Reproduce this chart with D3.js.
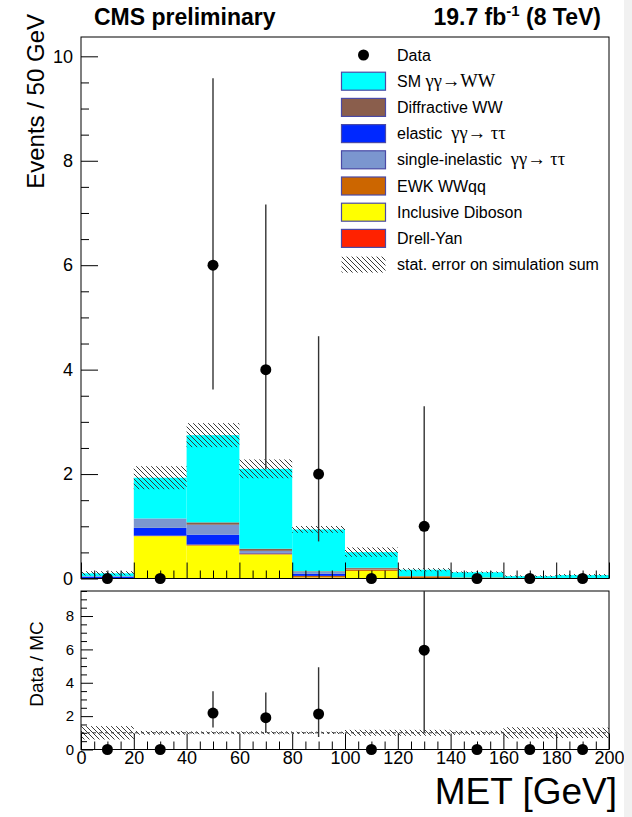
<!DOCTYPE html>
<html>
<head>
<meta charset="utf-8">
<script src="https://cdn.jsdelivr.net/npm/d3@7"></script>
<style>
  html, body { margin: 0; padding: 0; background: #fff; }
  svg { display: block; font-family: "Liberation Sans", Arial, Helvetica, sans-serif; }
  .greek { font-family: "Liberation Serif", "DejaVu Serif", serif; }
</style>
</head>
<body>
<svg id="chart" width="632" height="817"></svg>
<script>
// MET distribution, 20 GeV bins
const binEdges = [0, 20, 40, 60, 80, 100, 120, 140, 160, 180, 200];

// observed events and asymmetric Poisson errors
const dataCounts  = [0, 0, 6, 4, 2, 0, 1, 0, 0, 0];
const dataErrLow  = [0, 0, 2.38, 1.91, 1.29, 0, 0.83, 0, 0, 0];
const dataErrHigh = [0, 0, 3.58, 3.16, 2.64, 0, 2.30, 0, 0, 0];

// simulated contributions, stacked bottom to top
const drellYan              = [0, 0, 0, 0, 0.01, 0.005, 0, 0, 0, 0];
const inclusiveDiboson      = [0, 0.81, 0.63, 0.46, 0.01, 0.14, 0, 0, 0, 0];
const ewkWWqq               = [0.005, 0.01, 0.02, 0.02, 0.03, 0.03, 0.04, 0.02, 0.01, 0.01];
const elasticTauTau         = [0.03, 0.15, 0.19, 0.01, 0.04, 0, 0, 0, 0, 0];
const singleInelasticTauTau = [0.01, 0.18, 0.19, 0.04, 0.04, 0.01, 0, 0, 0, 0];
const diffractiveWW         = [0, 0, 0.045, 0.04, 0.01, 0.02, 0.005, 0, 0, 0];
const smGammaGammaWW        = [0.055, 0.78, 1.67, 1.53, 0.80, 0.30, 0.123, 0.10, 0.035, 0.055];

// statistical uncertainty on the simulated sum
const mcStatErr = [0.04, 0.22, 0.23, 0.18, 0.065, 0.09, 0.03, 0.015, 0.015, 0.02];

// axis ticks
const xMajorTicks = [0, 20, 40, 60, 80, 100, 120, 140, 160, 180, 200];
const yMajorTicks = [0, 2, 4, 6, 8, 10];
const ratioMajorTicks = [0, 2, 4, 6, 8];

const processes = [
  { name: "Drell-Yan",            values: drellYan,              color: "#ff2200" },
  { name: "Inclusive Diboson",    values: inclusiveDiboson,      color: "#ffff00" },
  { name: "EWK WWqq",             values: ewkWWqq,               color: "#cc6600" },
  { name: "elastic",              values: elasticTauTau,         color: "#0028ff" },
  { name: "single-inelastic",     values: singleInelasticTauTau, color: "#7b96cf" },
  { name: "Diffractive WW",       values: diffractiveWW,         color: "#8a5e4c" },
  { name: "SM",                   values: smGammaGammaWW,        color: "#00ffff" }
];

const svg = d3.select("#chart");
const defs = svg.append("defs");

// diagonal hatch for the stat. error band
const hatch = defs.append("pattern")
  .attr("id", "hatch").attr("patternUnits", "userSpaceOnUse")
  .attr("width", 5).attr("height", 5);
hatch.append("path")
  .attr("d", "M0,0 L5,5 M-1,4 L1,6 M4,-1 L6,1")
  .attr("stroke", "#3a3a3a").attr("stroke-width", 1);

// panel geometry
const left = 81, right = 609;
const top1 = 37, bot1 = 578.5;
const top2 = 591, bot2 = 749.5;

const x = d3.scaleLinear().domain([0, 200]).range([left, right]);
const y = d3.scaleLinear().domain([0, 10.37]).range([bot1, top1]);
const yr = d3.scaleLinear().domain([0, 9.5]).range([bot2, top2]);

const nBins = binEdges.length - 1;
const bins = d3.range(nBins).map(i => ({ i, lo: binEdges[i], hi: binEdges[i + 1], c: (binEdges[i] + binEdges[i + 1]) / 2 }));

// stacked simulation
const stackRows = bins.map(b => {
  const row = { i: b.i };
  processes.forEach(p => row[p.name] = p.values[b.i]);
  return row;
});
const stack = d3.stack().keys(processes.map(p => p.name))(stackRows);
const mcTotal = bins.map(b => d3.sum(processes, p => p.values[b.i]));

const gTop = svg.append("g");
stack.forEach((layer, k) => {
  gTop.append("g").selectAll("rect").data(layer).join("rect")
    .attr("x", (d, i) => x(bins[i].lo))
    .attr("width", (d, i) => x(bins[i].hi) - x(bins[i].lo))
    .attr("y", d => y(d[1]))
    .attr("height", d => Math.max(0, y(d[0]) - y(d[1])))
    .attr("fill", processes[k].color);
});

// stat. error band on the sum
gTop.append("g").selectAll("rect").data(bins).join("rect")
  .attr("x", b => x(b.lo))
  .attr("width", b => x(b.hi) - x(b.lo))
  .attr("y", b => y(mcTotal[b.i] + mcStatErr[b.i]))
  .attr("height", b => y(Math.max(0, mcTotal[b.i] - mcStatErr[b.i])) - y(mcTotal[b.i] + mcStatErr[b.i]))
  .attr("fill", "url(#hatch)");

// axes for the upper panel (ticks point inwards)
function styleAxis(g) {
  g.select(".domain").remove();
  g.selectAll(".tick line").attr("stroke", "#000").attr("stroke-width", 1);
  g.selectAll("text").attr("fill", "#000").attr("font-family", "Liberation Sans, Arial, sans-serif");
}
const xMinor = d3.range(0, 201, 5).filter(v => v % 20 !== 0);
gTop.append("g").attr("transform", `translate(0,${bot1})`)
  .call(d3.axisBottom(x).tickValues(xMajorTicks).tickSize(-16).tickFormat(""))
  .call(styleAxis);
gTop.append("g").attr("transform", `translate(0,${bot1})`)
  .call(d3.axisBottom(x).tickValues(xMinor).tickSize(-8).tickFormat(""))
  .call(styleAxis);
const yMinor = d3.range(0, 10.3, 0.5).filter(v => v % 2 !== 0);
gTop.append("g").attr("transform", `translate(${left},0)`)
  .call(d3.axisLeft(y).tickValues(yMajorTicks).tickSize(-17).tickPadding(8).tickFormat(d3.format("d")))
  .call(styleAxis)
  .call(g => g.selectAll("text").attr("font-size", 18));
gTop.append("g").attr("transform", `translate(${left},0)`)
  .call(d3.axisLeft(y).tickValues(yMinor).tickSize(-8).tickFormat(""))
  .call(styleAxis);

gTop.append("rect").attr("x", left).attr("y", top1)
  .attr("width", right - left).attr("height", bot1 - top1)
  .attr("fill", "none").attr("stroke", "#000").attr("stroke-width", 1);

// data points
const errColor = "#333";
gTop.append("g").selectAll("line").data(bins.filter(b => dataCounts[b.i] > 0)).join("line")
  .attr("x1", b => x(b.c)).attr("x2", b => x(b.c))
  .attr("y1", b => y(dataCounts[b.i] + dataErrHigh[b.i]))
  .attr("y2", b => y(dataCounts[b.i] - dataErrLow[b.i]))
  .attr("stroke", errColor).attr("stroke-width", 1.4);
gTop.append("g").selectAll("circle").data(bins).join("circle")
  .attr("cx", b => x(b.c)).attr("cy", b => y(dataCounts[b.i]))
  .attr("r", 5.5).attr("fill", "#000");

// lower panel: data / simulation
defs.append("clipPath").attr("id", "ratioClip")
  .append("rect").attr("x", left).attr("y", top2).attr("width", right - left).attr("height", bot2 - top2);

const gBot = svg.append("g");
const relErr = bins.map(b => mcTotal[b.i] > 0 ? mcStatErr[b.i] / mcTotal[b.i] : 0);
gBot.append("g").selectAll("rect").data(bins).join("rect")
  .attr("x", b => x(b.lo))
  .attr("width", b => x(b.hi) - x(b.lo))
  .attr("y", b => yr(1 + relErr[b.i]))
  .attr("height", b => yr(1 - relErr[b.i]) - yr(1 + relErr[b.i]))
  .attr("fill", "url(#hatch)");
gBot.append("line")
  .attr("x1", left).attr("x2", right).attr("y1", yr(1)).attr("y2", yr(1))
  .attr("stroke", "#333").attr("stroke-width", 1).attr("stroke-dasharray", "3,3");

gBot.append("g").attr("transform", `translate(0,${bot2})`)
  .call(d3.axisBottom(x).tickValues(xMajorTicks).tickSize(-16).tickPadding(2).tickFormat(d3.format("d")))
  .call(styleAxis)
  .call(g => g.selectAll("text").attr("font-size", 18));
gBot.append("g").attr("transform", `translate(0,${bot2})`)
  .call(d3.axisBottom(x).tickValues(xMinor).tickSize(-8).tickFormat(""))
  .call(styleAxis);
const rMinor = d3.range(0, 9.6, 0.5).filter(v => v % 2 !== 0);
gBot.append("g").attr("transform", `translate(${left},0)`)
  .call(d3.axisLeft(yr).tickValues(ratioMajorTicks).tickSize(-12).tickPadding(7).tickFormat(d3.format("d")))
  .call(styleAxis)
  .call(g => g.selectAll("text").attr("font-size", 15));
gBot.append("g").attr("transform", `translate(${left},0)`)
  .call(d3.axisLeft(yr).tickValues(rMinor).tickSize(-6).tickFormat(""))
  .call(styleAxis);

gBot.append("rect").attr("x", left).attr("y", top2)
  .attr("width", right - left).attr("height", bot2 - top2)
  .attr("fill", "none").attr("stroke", "#000").attr("stroke-width", 1);

const ratio = bins.map(b => mcTotal[b.i] > 0 ? dataCounts[b.i] / mcTotal[b.i] : 0);
gBot.append("g").attr("clip-path", "url(#ratioClip)")
  .selectAll("line").data(bins.filter(b => dataCounts[b.i] > 0)).join("line")
  .attr("x1", b => x(b.c)).attr("x2", b => x(b.c))
  .attr("y1", b => yr((dataCounts[b.i] + dataErrHigh[b.i]) / mcTotal[b.i]))
  .attr("y2", b => yr((dataCounts[b.i] - dataErrLow[b.i]) / mcTotal[b.i]))
  .attr("stroke", errColor).attr("stroke-width", 1.4);
gBot.append("g").selectAll("circle").data(bins).join("circle")
  .attr("cx", b => x(b.c)).attr("cy", b => yr(ratio[b.i]))
  .attr("r", 5.5).attr("fill", "#000");

// titles
svg.append("text").attr("x", 94).attr("y", 25)
  .attr("font-size", 23).attr("font-weight", "bold").text("CMS preliminary");
const lumi = svg.append("text").attr("x", 601).attr("y", 25)
  .attr("font-size", 23).attr("font-weight", "bold").attr("text-anchor", "end");
lumi.append("tspan").text("19.7 fb");
lumi.append("tspan").attr("font-size", 15).attr("dy", -9).text("-1");
lumi.append("tspan").attr("dy", 9).text(" (8 TeV)");

svg.append("text")
  .attr("transform", "translate(44,14) rotate(-90)")
  .attr("text-anchor", "end").attr("font-size", 24)
  .text("Events / 50 GeV");
svg.append("text")
  .attr("transform", "translate(43,664) rotate(-90)")
  .attr("text-anchor", "middle").attr("font-size", 19)
  .text("Data / MC");
svg.append("text").attr("x", 617).attr("y", 804)
  .attr("text-anchor", "end").attr("font-size", 37)
  .text("MET [GeV]");

// legend
const legendRows = [
  { kind: "marker", parts: [["Data"]] },
  { kind: "box", color: "#00ffff", parts: [["SM "], ["γγ→WW", true]] },
  { kind: "box", color: "#8a5e4c", parts: [["Diffractive WW"]] },
  { kind: "box", color: "#0028ff", parts: [["elastic  "], ["γγ→ ττ", true]] },
  { kind: "box", color: "#7b96cf", parts: [["single-inelastic  "], ["γγ→ ττ", true]] },
  { kind: "box", color: "#cc6600", parts: [["EWK WWqq"]] },
  { kind: "box", color: "#ffff00", parts: [["Inclusive Diboson"]] },
  { kind: "box", color: "#ff2200", parts: [["Drell-Yan"]] },
  { kind: "hatch", parts: [["stat. error on simulation sum"]] }
];
const legend = svg.append("g");
legendRows.forEach((r, k) => {
  const cy = 55 + k * 26.2;
  if (r.kind === "marker") {
    legend.append("circle").attr("cx", 363.5).attr("cy", cy).attr("r", 5.5).attr("fill", "#000");
  } else if (r.kind === "box") {
    legend.append("rect").attr("x", 341.5).attr("y", cy - 9).attr("width", 44).attr("height", 18)
      .attr("fill", r.color).attr("stroke", "#4a4aa6").attr("stroke-width", 1.2);
  } else {
    legend.append("rect").attr("x", 341.5).attr("y", cy - 8).attr("width", 44).attr("height", 16)
      .attr("fill", "url(#hatch)");
  }
  const t = legend.append("text").attr("x", 397).attr("y", cy + 5.5).attr("font-size", 16)
    .attr("xml:space", "preserve");
  r.parts.forEach(([s, greek]) => {
    const ts = t.append("tspan").text(s);
    if (greek) ts.attr("class", "greek").attr("font-size", 18.5);
  });
});

// pale strip along the right edge of the canvas
svg.append("rect").attr("x", 624).attr("y", 0).attr("width", 8).attr("height", 817).attr("fill", "#f1f1f1");
</script>
</body>
</html>
